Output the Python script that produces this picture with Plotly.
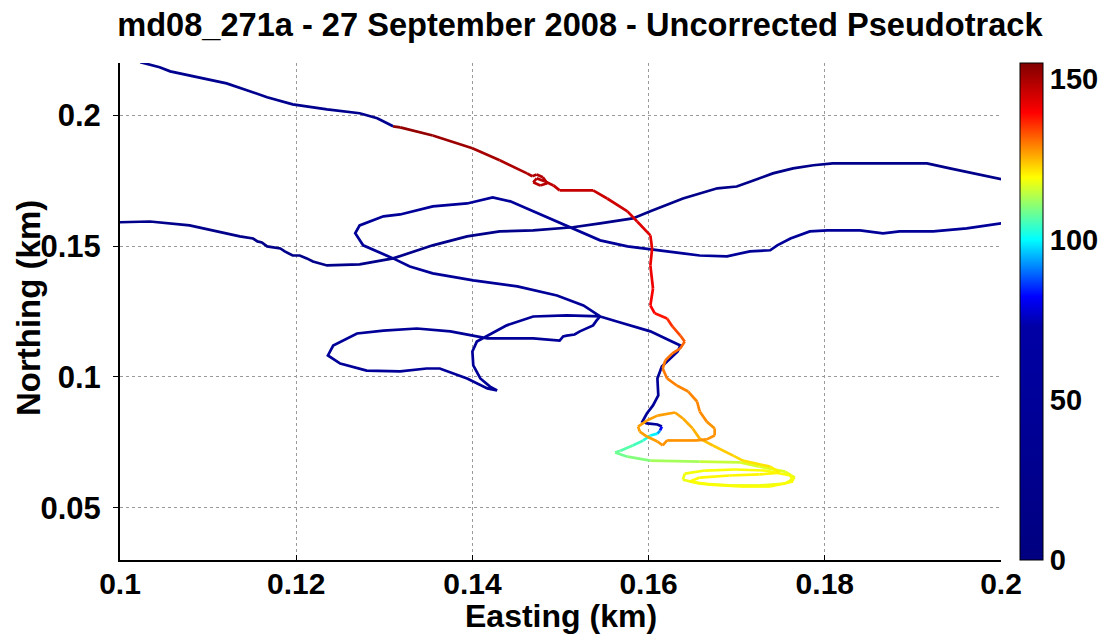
import plotly.graph_objects as go
from plotly.colors import sample_colorscale

# --- data: pseudotrack pieces (easting / northing in km) ---
# dark blue piece entering from the top edge
a_east = [0.1023, 0.1045, 0.1057, 0.1091, 0.1121, 0.1144, 0.1167, 0.1196, 0.1235, 0.1272, 0.1292, 0.1310]
a_north = [0.2203, 0.2184, 0.2168, 0.2145, 0.2122, 0.2096, 0.2069, 0.2042, 0.2023, 0.2008, 0.1989, 0.1958]
a_val = 30

# dark blue piece crossing from the left edge to the right edge
b_east = [0.0998, 0.1034, 0.1079, 0.1110, 0.1136, 0.1151, 0.1156, 0.1161, 0.1167, 0.1182, 0.1187, 0.1196,
          0.1204, 0.1212, 0.1219, 0.1235, 0.1272, 0.1310, 0.1355, 0.1394, 0.1431, 0.1469, 0.1514, 0.1545,
          0.1582, 0.1602, 0.1639, 0.1678, 0.1700, 0.1719, 0.1741, 0.1764, 0.1787, 0.1809, 0.1866, 0.1916,
          0.1942, 0.1968, 0.2001]
b_north = [0.1591, 0.1594, 0.1579, 0.1556, 0.1537, 0.1529, 0.1518, 0.1514, 0.1499, 0.1491, 0.1480, 0.1464,
           0.1464, 0.1453, 0.1441, 0.1426, 0.1430, 0.1453, 0.1503, 0.1537, 0.1556, 0.1560, 0.1572, 0.1587,
           0.1606, 0.1633, 0.1682, 0.1721, 0.1728, 0.1751, 0.1778, 0.1797, 0.1809, 0.1816, 0.1816, 0.1816,
           0.1797, 0.1778, 0.1755]
b_val = 20

# dark blue piece from the right edge, loops and ends in a hook
c_east = [0.2001, 0.1961, 0.1923, 0.1885, 0.1866, 0.1840, 0.1803, 0.1783, 0.1761, 0.1746, 0.1738, 0.1715,
          0.1689, 0.1658, 0.1639, 0.1610, 0.1590, 0.1576, 0.1545, 0.1522, 0.1496, 0.1469, 0.1443, 0.1423,
          0.1394, 0.1355, 0.1318, 0.1299, 0.1272, 0.1267, 0.1276, 0.1310, 0.1329, 0.1355, 0.1401, 0.1451,
          0.1496, 0.1526, 0.1545,
          0.1507, 0.1469, 0.1439, 0.1417, 0.1405, 0.1400, 0.1401, 0.1409, 0.1420, 0.1428, 0.1417, 0.1394,
          0.1363, 0.1348, 0.1318, 0.1280, 0.1250, 0.1236, 0.1242, 0.1269, 0.1299, 0.1337, 0.1375, 0.1417,
          0.1469, 0.1499, 0.1503, 0.1507, 0.1516, 0.1522, 0.1530, 0.1537, 0.1541, 0.1545,
          0.1564, 0.1602, 0.1624, 0.1636, 0.1633, 0.1624, 0.1615, 0.1610, 0.1611, 0.1605, 0.1598, 0.1593,
          0.1598, 0.1610, 0.1615]
c_north = [0.1587, 0.1568, 0.1556, 0.1556, 0.1549, 0.1560, 0.1560, 0.1556, 0.1529, 0.1503, 0.1484, 0.1480,
           0.1461, 0.1464, 0.1472, 0.1484, 0.1491, 0.1499, 0.1522, 0.1556, 0.1594, 0.1633, 0.1671, 0.1686,
           0.1663, 0.1652, 0.1621, 0.1614, 0.1579, 0.1549, 0.1503, 0.1453, 0.1422, 0.1396, 0.1369, 0.1346,
           0.1311, 0.1273, 0.1231,
           0.1235, 0.1231, 0.1197, 0.1155, 0.1135, 0.1097, 0.1044, 0.0994, 0.0963, 0.0948, 0.0956, 0.0994,
           0.1032, 0.1032, 0.1021, 0.1024, 0.1051, 0.1082, 0.1120, 0.1166, 0.1177, 0.1185, 0.1174, 0.1147,
           0.1147, 0.1139, 0.1155, 0.1158, 0.1162, 0.1174, 0.1185, 0.1197, 0.1216, 0.1231,
           0.1212, 0.1174, 0.1139, 0.1120, 0.1097, 0.1070, 0.1040, 0.0994, 0.0929, 0.0891, 0.0860, 0.0829,
           0.0822, 0.0818, 0.0810]
c_val = 50

# coloured piece: from the hook through the loops up to the red tail
d_east = [0.1615, 0.1613, 0.1610, 0.1602, 0.1594, 0.1582, 0.1568, 0.1562, 0.1576, 0.1602, 0.1658, 0.1704,
          0.1726, 0.1755, 0.1766, 0.1755, 0.1726, 0.1692, 0.1658, 0.1639, 0.1641, 0.1664, 0.1698, 0.1732,
          0.1761, 0.1764, 0.1738, 0.1704, 0.1670, 0.1647, 0.1658, 0.1692, 0.1726, 0.1749, 0.1738, 0.1707,
          0.1696, 0.1673, 0.1658, 0.1650, 0.1639, 0.1630, 0.1610, 0.1598, 0.1588, 0.1590, 0.1598, 0.1610,
          0.1616, 0.1621, 0.1655, 0.1666, 0.1675, 0.1675, 0.1666, 0.1658, 0.1655, 0.1645, 0.1632, 0.1621,
          0.1616, 0.1619, 0.1627, 0.1636, 0.1641, 0.1636, 0.1627, 0.1621, 0.1607, 0.1602, 0.1605, 0.1602,
          0.1604, 0.1602, 0.1587, 0.1576, 0.1553, 0.1537, 0.1499, 0.1492, 0.1482, 0.1473, 0.1469, 0.1477,
          0.1485, 0.1480, 0.1473, 0.1468, 0.1462, 0.1431, 0.1400, 0.1355, 0.1318, 0.1310]
d_north = [0.0810, 0.0795, 0.0783, 0.0776, 0.0757, 0.0738, 0.0718, 0.0711, 0.0695, 0.0680, 0.0676, 0.0673,
           0.0657, 0.0638, 0.0615, 0.0592, 0.0585, 0.0585, 0.0592, 0.0607, 0.0630, 0.0642, 0.0646, 0.0642,
           0.0623, 0.0600, 0.0581, 0.0581, 0.0588, 0.0600, 0.0615, 0.0623, 0.0627, 0.0634, 0.0657, 0.0680,
           0.0699, 0.0738, 0.0764, 0.0803, 0.0841, 0.0864, 0.0852, 0.0833, 0.0810, 0.0791, 0.0772, 0.0753,
           0.0738, 0.0757, 0.0757, 0.0761, 0.0776, 0.0803, 0.0829, 0.0868, 0.0906, 0.0944, 0.0967, 0.0994,
           0.1032, 0.1063, 0.1090, 0.1109, 0.1135, 0.1158, 0.1193, 0.1223, 0.1243, 0.1273, 0.1338, 0.1426,
           0.1491, 0.1541, 0.1594, 0.1633, 0.1682, 0.1713, 0.1713, 0.1732, 0.1748, 0.1759, 0.1744, 0.1732,
           0.1740, 0.1763, 0.1774, 0.1767, 0.1778, 0.1828, 0.1874, 0.1923, 0.1954, 0.1958]
d_val = [75, 90, 97, 101, 104, 106, 107, 108, 109, 111, 114, 116,
         117, 117, 118, 118, 118, 118, 118, 118, 118, 119, 119, 119,
         119, 119, 119, 119, 119, 119, 120, 120, 120, 120, 121, 122,
         123, 124, 125, 126, 126, 127, 127, 127, 127, 127, 127, 127,
         128, 128, 128, 128, 128, 128, 128, 129, 129, 129, 129, 130,
         130, 130, 131, 131, 132, 133, 135, 137, 139, 140, 141, 142,
         142, 143, 144, 145, 146, 146, 147, 147, 148, 148, 148, 148,
         148, 148, 149, 149, 149, 150, 151, 152, 153, 153]

x_ticks = [0.1, 0.12, 0.14, 0.16, 0.18, 0.2]
x_labels = ["0.1", "0.12", "0.14", "0.16", "0.18", "0.2"]
y_ticks = [0.05, 0.1, 0.15, 0.2]
y_labels = ["0.05", "0.1", "0.15", "0.2"]
cbar_ticks = [0, 50, 100, 150]
cmin, cmax = 0, 155

# jet-like map, dark blue over the lower half as in the original colour bar
jet_dark = [[0.0, "rgb(0,0,128)"], [0.47, "rgb(0,0,165)"], [0.53, "rgb(0,0,255)"],
            [0.645, "rgb(0,255,255)"], [0.77, "rgb(255,255,0)"], [0.90, "rgb(255,0,0)"],
            [1.0, "rgb(128,0,0)"]]


def col(v):
    return sample_colorscale(jet_dark, [(v - cmin) / (cmax - cmin)])[0]


FONT = "Liberation Sans, Arial, Helvetica, sans-serif"


def bold(size):
    return dict(family=FONT, size=size, color="black", weight="bold")


fig = go.Figure()

for xs, ys, v in [(a_east, a_north, a_val), (b_east, b_north, b_val), (c_east, c_north, c_val)]:
    fig.add_trace(go.Scatter(x=xs, y=ys, mode="lines", line=dict(color=col(v), width=2.7),
                             hoverinfo="skip", showlegend=False))

for i in range(len(d_east) - 1):
    v = (d_val[i] + d_val[i + 1]) / 2
    fig.add_trace(go.Scatter(x=d_east[i:i + 2], y=d_north[i:i + 2], mode="lines",
                             line=dict(color=col(v), width=2.7), hoverinfo="skip", showlegend=False))

# colour bar
fig.add_trace(go.Scatter(
    x=[None], y=[None], mode="markers", showlegend=False, hoverinfo="skip",
    marker=dict(color=[0], cmin=cmin, cmax=cmax, colorscale=jet_dark, showscale=True,
                colorbar=dict(thickness=23, len=1, lenmode="fraction", y=0.5, yanchor="middle",
                              ypad=0, xpad=0, x=1.022, xanchor="left",
                              outlinewidth=1, outlinecolor="black",
                              tickvals=cbar_ticks, ticks="",
                              tickfont=bold(29))),
))

fig.update_layout(
    width=1114, height=637,
    margin=dict(l=120, r=113, t=63, b=77, autoexpand=False),
    paper_bgcolor="white", plot_bgcolor="white",
    title=dict(text="md08_271a - 27 September 2008 - Uncorrected Pseudotrack",
               x=0.522, xref="paper", xanchor="center", y=1 - 25 / 637, yref="container",
               yanchor="middle", font=bold(32.6)),
    xaxis=dict(range=[0.1, 0.2], tickvals=x_ticks, ticktext=x_labels, automargin=False,
               showline=True, linecolor="black", linewidth=2, mirror=False,
               ticks="inside", ticklen=5, tickcolor="black", zeroline=False,
               showgrid=True, gridcolor="#9a9a9a", griddash="dot", gridwidth=1,
               ticklabelstandoff=-4, tickfont=bold(30)),
    yaxis=dict(range=[0.03, 0.22], tickvals=y_ticks, ticktext=y_labels, automargin=False,
               showline=True, linecolor="black", linewidth=2, mirror=False,
               ticks="outside", ticklen=5, tickcolor="black", zeroline=False,
               showgrid=True, gridcolor="#9a9a9a", griddash="dot", gridwidth=1,
               ticklabelstandoff=6, tickfont=bold(31)),
    annotations=[
        dict(text="Easting (km)", x=0.5, y=-0.112, xref="paper", yref="paper",
             xanchor="center", yanchor="middle", showarrow=False, font=bold(32)),
        dict(text="Northing (km)", x=-0.1044, y=0.507, xref="paper", yref="paper",
             xanchor="center", yanchor="middle", showarrow=False, textangle=-90, font=bold(33)),
    ],
)

# the page body has a default margin; drop it so the figure sits at the window origin
fig.write_html("out.html", config={"displayModeBar": False},
               post_script="document.body.style.margin='0';")
